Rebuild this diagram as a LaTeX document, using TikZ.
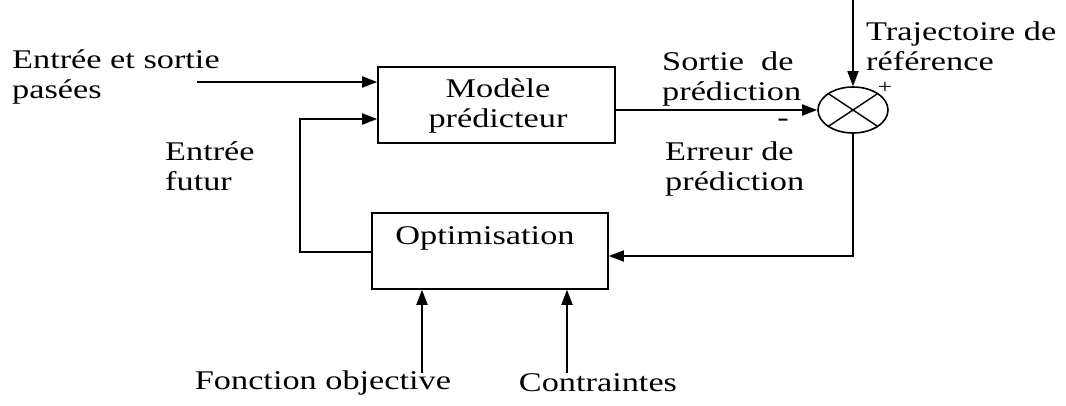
\documentclass[tikz,border=0pt]{standalone}
\usepackage{fontspec}
\setmainfont[FakeStretch=1.27]{Liberation Serif}
\usetikzlibrary{arrows.meta,shapes.geometric}
\begin{document}
\begin{tikzpicture}[x=1pt,y=-1pt,
  blk/.style={draw,line width=1.6pt,minimum width=#1,minimum height=76pt,inner sep=0pt},
  lbl/.style={font=\fontsize{27}{30}\selectfont,inner sep=0pt,align=left},
  conn/.style={line width=1.8pt,-{Triangle[length=15pt,width=11pt]}}]
\useasboundingbox (0,0) rectangle (1066,405);
\node[blk=237pt] (mod) at (496.5,105) {};
\node[lbl,align=center] (modt) at (498,106) {Modèle\\prédicteur};
\node[blk=236pt] (opt) at (490,251) {};
\node[lbl] (optt) at (485,238) {Optimisation};
\node[draw,ellipse,line width=1.6pt,minimum width=70pt,minimum height=46pt,inner sep=0pt] (sum) at (853,110) {};
\draw[line width=1.4pt] (sum.north west) -- (sum.south east) (sum.north east) -- (sum.south west);
% inputs
\coordinate (in1) at (197,82);
\draw[conn] (in1) -- (mod.west |- in1);
\coordinate (fb1) at (300,252);
\coordinate (fb2) at (300,119);
\draw[conn] (opt.west |- fb1) -- (fb1) -- (fb2) -- (mod.west |- fb2);
\draw[conn] (mod.east |- sum.west) -- (sum.west);
\coordinate (ref) at (853,0);
\draw[conn] (ref) -- (sum.north);
\coordinate (err) at (853,256);
\draw[conn] (sum.south) -- (err) -- (opt.east |- err);
\coordinate (fo) at (422,373);
\coordinate (co) at (567,373);
\draw[conn] (fo) -- (opt.south -| fo);
\draw[conn] (co) -- (opt.south -| co);
% labels
\node[lbl,anchor=north west] (l1) at (12,50) {Entrée et sortie\\pasées};
\node[lbl,anchor=north west] (l2) at (165,142) {Entrée\\futur};
\node[lbl,anchor=north west] (l3) at (662,52) {Sortie\ \ de\\prédiction};
\node[lbl] (minus) at (783,123) {-};
\node[lbl,anchor=north west] (l4) at (665,142) {Erreur de\\prédiction};
\node[lbl,anchor=north west] (l5) at (866,22) {Trajectoire de\\référence};
\node[lbl,font=\fontsize{20}{22}\selectfont] (plus) at (885,88) {+};
\node[lbl] (l6) at (323,383) {Fonction objective};
\node[lbl] (l7) at (598,383) {Contraintes};
\end{tikzpicture}
\end{document}
